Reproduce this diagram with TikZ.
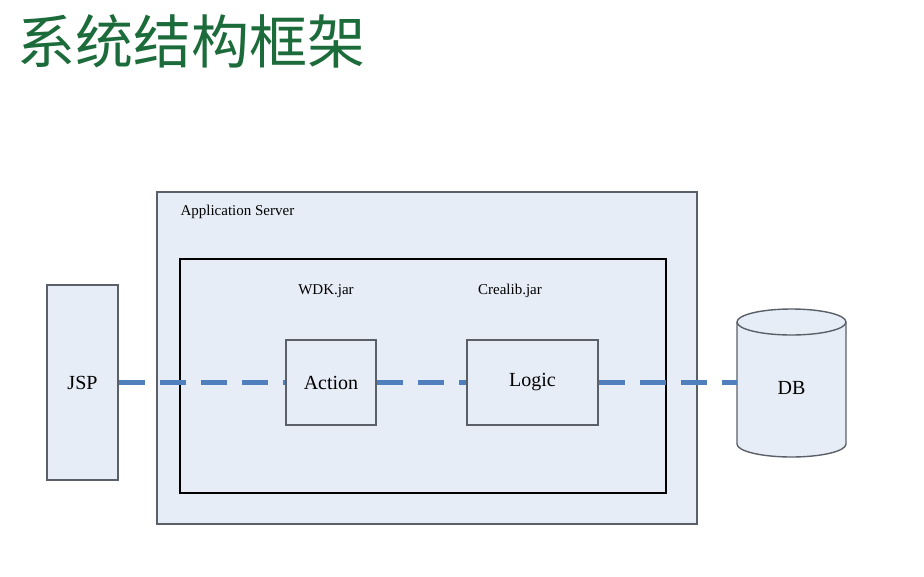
\documentclass[tikz,border=0pt]{standalone}
\usepackage{fontspec}
\setmainfont{Liberation Serif}
\newfontfamily\cjk{Noto Sans CJK SC}
\definecolor{boxfill}{HTML}{E7EDF6}
\definecolor{boxline}{HTML}{5B6068}
\definecolor{linkblue}{HTML}{4F7FBD}
\definecolor{titlegreen}{HTML}{1C6B3A}

\begin{document}
\begin{tikzpicture}[x=1pt,y=-1pt,
  box/.style={draw=boxline,fill=boxfill,line width=1.4pt,inner sep=0pt},
  label/.style={font=\fontsize{15}{18}\selectfont},
  part/.style={font=\fontsize{20}{24}\selectfont},
  link/.style={linkblue,line width=4.2pt,dash pattern=on 26pt off 15pt}]
\useasboundingbox (0,0) rectangle (924,576);

\node[anchor=west,text=titlegreen,inner sep=0pt,font=\cjk\fontsize{58}{64}\selectfont](title) at (17,41) {系统结构框架};

\node[box,minimum width=540,minimum height=332](server) at (427,358) {};
\node[label,anchor=west](serverlabel) at (177,212) {Application Server};
\node[box,draw=black,line width=1.1pt,minimum width=486,minimum height=234](jars) at (423,376) {};
\node[label](wdk) at (326,291) {WDK.jar};
\node[label](crealib) at (510,291) {Crealib.jar};

\node[box,part,minimum width=71,minimum height=195](jsp) at (82.5,382.5) {JSP};
\node[box,part,minimum width=90,minimum height=85](action) at (331,382.5) {Action};
\node[box,part,minimum width=131,minimum height=85](logic) at (532.5,382.5) {Logic};

% database cylinder
\draw[boxline,fill=boxfill,line width=1.4pt] (737,322) -- (737,444)
  arc[start angle=180,end angle=360,x radius=54.5pt,y radius=13pt] -- (846,322)
  arc[start angle=0,end angle=180,x radius=54.5pt,y radius=13pt] -- cycle;
\draw[boxline,line width=1.4pt] (737,322)
  arc[start angle=180,end angle=360,x radius=54.5pt,y radius=13pt];
\node[part](db) at (791.5,388) {DB};
\coordinate (dbwest) at (737,382.5);

\draw[link] (jsp.east) -- (action.west);
\draw[link] (action.east) -- (logic.west);
\draw[link] (logic.east) -- (dbwest);
\end{tikzpicture}
\end{document}
